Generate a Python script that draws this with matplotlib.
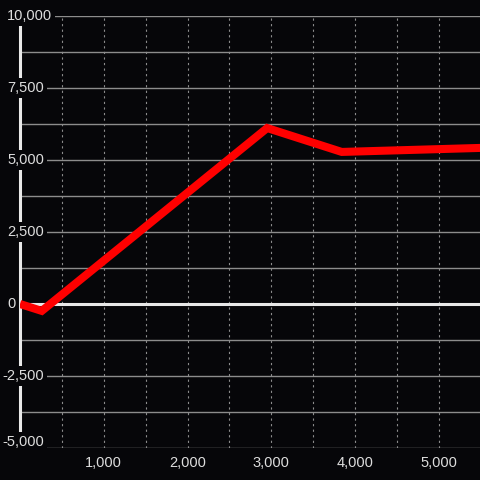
import matplotlib
matplotlib.use("Agg")
import matplotlib.pyplot as plt
from matplotlib.ticker import FuncFormatter

# data
x_vals = [0, 260, 2950, 3840, 5500]
y_vals = [0, -240, 6110, 5280, 5420]
y_label_vals = [-5000, -2500, 0, 2500, 5000, 7500, 10000]
x_label_vals = [1000, 2000, 3000, 4000, 5000]

BG = "#060609"
TXT = "#dddddd"
GRID = "#8c8c8c"

plt.rcParams['font.family'] = ['Liberation Sans', 'DejaVu Sans']

fig = plt.figure(figsize=(4.8, 4.8), dpi=100, facecolor=BG)
ax = fig.add_axes([20/480, 1 - 448/480, 460/480, 432/480], facecolor=BG)

ax.set_xlim(0, 5490)
ax.set_ylim(-5000, 10000)

# gridlines
ax.set_yticks(list(range(-5000, 10001, 1250)))
ax.set_xticks(list(range(500, 5490, 500)))
ax.yaxis.grid(True, color=GRID, linewidth=1.0, linestyle='-')
ax.xaxis.grid(True, color=GRID, linewidth=0.8, linestyle=(0, (2, 3)))
ax.set_axisbelow(True)
ax.tick_params(axis='both', length=0)
ax.set_yticklabels([])
ax.xaxis.set_major_formatter(FuncFormatter(
    lambda v, p: f"{int(v):,}" if int(v) in x_label_vals else ""))
ax.tick_params(axis='x', colors=TXT, labelsize=10.5, pad=5.5)

for s in ['top', 'right', 'bottom']:
    ax.spines[s].set_visible(False)
ax.spines['left'].set_color('#e8e8e8')
ax.spines['left'].set_linewidth(2.2)

# zero line
ax.axhline(0, color='#e8e8e8', linewidth=2.2, zorder=3)

# data line
ax.plot(x_vals, y_vals, color='#ff0000', linewidth=5.8, solid_joinstyle='miter',
        solid_capstyle='butt', zorder=4)

# y labels inside, with background boxes (left aligned, minus sign hanging)
px = 72 / 100
for v in y_label_vals:
    dy = 4.5 if v == -5000 else 0
    dx = (-18 if v < 0 else -13) * px
    ax.annotate(f"{v:,}", xy=(0, v), xytext=(dx, dy), textcoords='offset points',
                ha='left', va='center', color=TXT, fontsize=10.5, zorder=6,
                annotation_clip=False,
                bbox=dict(boxstyle='square,pad=0.2', facecolor=BG, edgecolor='none'))

fig.savefig("out.png", dpi=100, facecolor=BG)
